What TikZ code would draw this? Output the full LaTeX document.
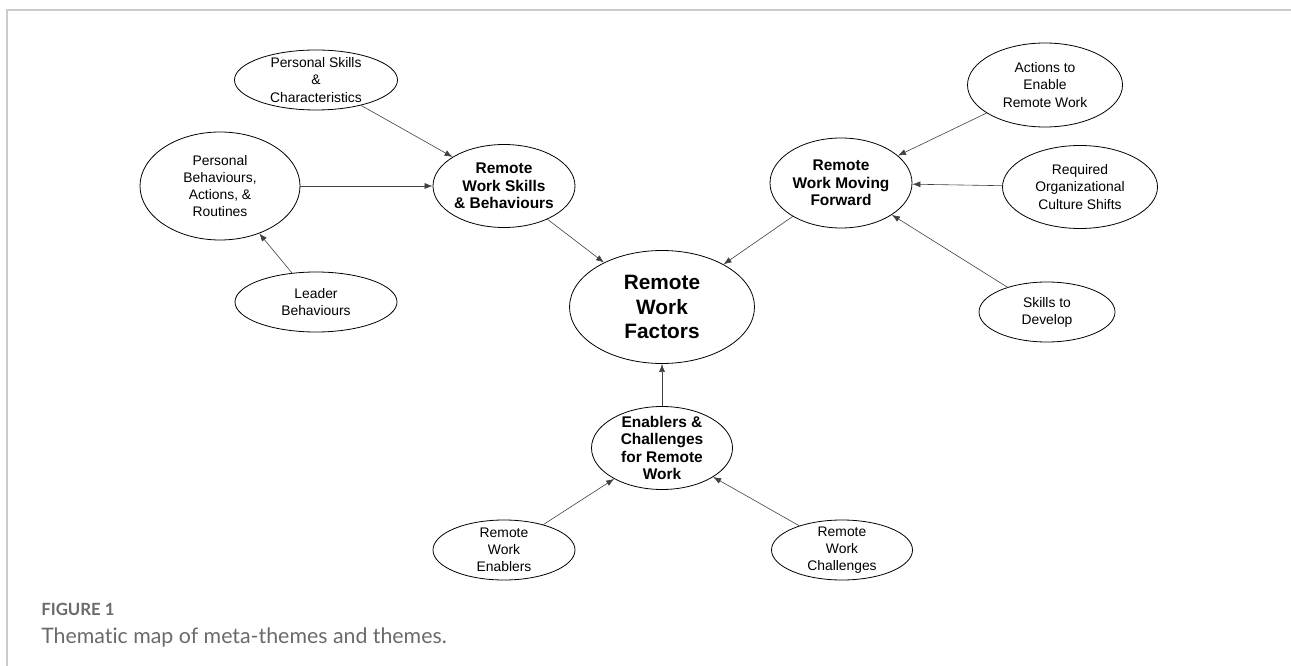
\documentclass[tikz,border=0pt]{standalone}
\usepackage{fontspec}
\setmainfont{Liberation Sans}
\newfontfamily\capfont[Ligatures=NoCommon]{Lato}
\usetikzlibrary{shapes.geometric,arrows.meta}
\definecolor{framegray}{HTML}{CCCCCC}
\definecolor{capgray}{HTML}{6A6A6A}
\definecolor{linkgray}{HTML}{404040}
\begin{document}
\begin{tikzpicture}[x=0.75pt,y=-0.75pt,
  oval/.style={draw,ellipse,inner sep=0pt,line width=0.6pt},
  txt/.style={align=center,font=\fontsize{10.4}{12.8}\selectfont},
  midtxt/.style={align=center,font=\bfseries\fontsize{11.6}{13.2}\selectfont},
  bigtxt/.style={align=center,font=\bfseries\fontsize{15.6}{18.7}\selectfont},
  link/.style={->,>={Latex[length=6pt,width=4.5pt]},draw=linkgray,line width=0.45pt}]
\useasboundingbox (0,0) rectangle (1291,666);
% frame
\draw[framegray,line width=1.5pt] (7,666) -- (7,10) -- (1291,10);
% centre
\node[oval,minimum width=138.75pt,minimum height=84.75pt,label={[bigtxt]center:{Remote\\Work\\Factors}}] (rwf) at (662,307) {};
% meta-themes
\node[oval,minimum width=106.5pt,minimum height=62.25pt,label={[midtxt]center:{Remote\\Work Skills\\\& Behaviours}}] (rwsb) at (504,186) {};
\node[oval,minimum width=106.5pt,minimum height=67.5pt,label={[midtxt]center:{Remote\\Work Moving\\Forward}}] (rwmf) at (841,183) {};
\node[oval,minimum width=105.75pt,minimum height=62.25pt,label={[midtxt]center:{Enablers \&\\Challenges\\for Remote\\Work}}] (ec) at (662,448) {};
% themes
\node[oval,minimum width=122.25pt,minimum height=45pt,label={[txt]center:{Personal Skills\\\&\\Characteristics}}] (ps) at (316,80) {};
\node[oval,minimum width=120pt,minimum height=81pt,label={[txt]center:{Personal\\Behaviours,\\Actions, \&\\Routines}}] (pb) at (220,186) {};
\node[oval,minimum width=121.5pt,minimum height=45pt,label={[txt]center:{Leader\\Behaviours}}] (lb) at (316,302) {};
\node[oval,minimum width=116.25pt,minimum height=63pt,label={[txt]center:{Actions to\\Enable\\Remote Work}}] (ae) at (1045,85) {};
\node[oval,minimum width=116.25pt,minimum height=62.25pt,label={[txt]center:{Required\\Organizational\\Culture Shifts}}] (rocs) at (1080,187) {};
\node[oval,minimum width=102pt,minimum height=45pt,label={[txt]center:{Skills to\\Develop}}] (sd) at (1047,312) {};
\node[oval,minimum width=106.5pt,minimum height=45pt,label={[txt]center:{Remote\\Work\\Enablers}}] (rwe) at (504,550) {};
\node[oval,minimum width=105.75pt,minimum height=45pt,label={[txt]center:{Remote\\Work\\Challenges}}] (rwc) at (842,550) {};
% links
\draw[link] (ps) -- (rwsb);
\draw[link] (pb) -- (rwsb);
\draw[link] (lb) -- (pb);
\draw[link] (rwsb) -- (rwf);
\draw[link] (ae) -- (rwmf);
\draw[link] (rocs) -- (rwmf);
\draw[link] (sd) -- (rwmf);
\draw[link] (rwmf) -- (rwf);
\draw[link] (ec) -- (rwf);
\draw[link] (rwe) -- (ec);
\draw[link] (rwc) -- (ec);
% caption
\node[anchor=base west,inner sep=0pt,text=capgray,font=\capfont\bfseries\fontsize{12.6}{14}\selectfont] (fig) at (41,615) {FIGURE 1};
\node[anchor=base west,inner sep=0pt,text=capgray,font=\capfont\fontsize{16}{18}\selectfont] (cap) at (41,643) {Thematic map of meta-themes and themes.};
\end{tikzpicture}
\end{document}
